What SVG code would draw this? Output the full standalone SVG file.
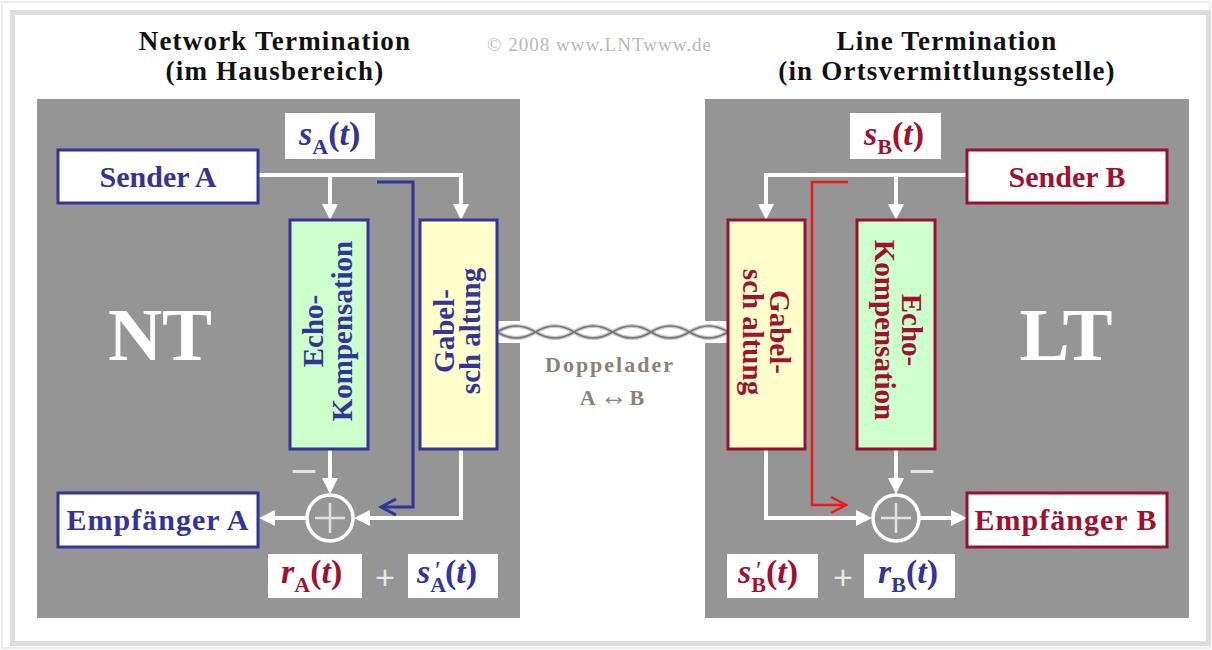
<svg xmlns="http://www.w3.org/2000/svg" width="1212" height="650" viewBox="0 0 1212 650">
  <style>
    text { font-family: "Liberation Serif", "Times New Roman", serif; }
    .title { font-size: 27px; font-weight: bold; fill: #111; text-anchor: middle; letter-spacing: 1.2px; }
    .copy { font-size: 19px; fill: #b8b8b8; letter-spacing: 1px; }
    .panel { fill: #959595; }
    .big { font-size: 75px; font-weight: bold; fill: #ffffff; text-anchor: middle; }
    .boxA { fill: #ffffff; stroke: #333399; stroke-width: 3; }
    .boxB { fill: #ffffff; stroke: #9b1030; stroke-width: 3; }
    .echoA { fill: #ccffcc; stroke: #333399; stroke-width: 3; }
    .gabelA { fill: #ffffcc; stroke: #333399; stroke-width: 3; }
    .echoB { fill: #ccffcc; stroke: #9b1030; stroke-width: 3; }
    .gabelB { fill: #ffffcc; stroke: #9b1030; stroke-width: 3; }
    .name { font-size: 30px; font-weight: bold; text-anchor: middle; }
    .vert { font-size: 29px; font-weight: bold; text-anchor: middle; }
    .blue { fill: #333399; }
    .red { fill: #a01030; }
    .tag { fill: #ffffff; }
    .sig { font-size: 34px; font-weight: bold; }
    .it { font-style: italic; }
    .sub { font-size: 22px; font-style: normal; }
    .pr { font-size: 26px; font-style: normal; font-weight: normal; }
    .wire { fill: none; stroke: #ffffff; stroke-width: 4; }
    .echoPathA { fill: none; stroke: #333399; stroke-width: 3; }
    .echoPathB { fill: none; stroke: #f01818; stroke-width: 2.5; }
    .sum { fill: none; stroke: #ffffff; stroke-width: 3.5; }
    .plus { fill: none; stroke: #e2e2e2; stroke-width: 2.5; }
    .minus { font-size: 44px; font-weight: bold; fill: #e4e4e4; text-anchor: middle; }
    .add { font-family: "Liberation Sans", Arial, sans-serif; font-size: 34px; fill: #e8e8e8; text-anchor: middle; }
    .pairLight { fill: none; stroke: #c8c8c8; stroke-width: 4; }
    .pairDark { fill: none; stroke: #747474; stroke-width: 1.6; }
    .dopp { font-size: 22px; font-weight: bold; fill: #8a8278; text-anchor: middle; letter-spacing: 2px; }
    .arrowGlyph { font-size: 28px; letter-spacing: 0; }
  </style>
  <defs>
    <marker id="arrW" viewBox="0 0 16 16" markerWidth="16" markerHeight="16" refX="10" refY="8" orient="auto" markerUnits="userSpaceOnUse">
      <path d="M0,0 L16,8 L0,16 Z" fill="#ffffff"/>
    </marker>
    <marker id="chevBlue" viewBox="0 0 20 20" markerWidth="20" markerHeight="20" refX="17" refY="10" orient="auto" markerUnits="userSpaceOnUse">
      <path d="M2,2 L17,10 L2,18" fill="none" stroke="#333399" stroke-width="3"/>
    </marker>
    <marker id="chevRed" viewBox="0 0 20 20" markerWidth="20" markerHeight="20" refX="17" refY="10" orient="auto" markerUnits="userSpaceOnUse">
      <path d="M2,2 L17,10 L2,18" fill="none" stroke="#f01818" stroke-width="2.5"/>
    </marker>
  </defs>

  <!-- page frame -->
  <rect x="0" y="0" width="1212" height="650" fill="#ffffff"/>
  <rect x="2" y="2" width="1208" height="646" fill="none" stroke="#e8e8e8" stroke-width="1.5"/>
  <rect x="12.5" y="12.5" width="1196" height="631" fill="#ffffff" stroke="#dddddd" stroke-width="5"/>

  <!-- headings -->
  <text class="title" x="275" y="50">Network Termination</text>
  <text class="title" x="275" y="80">(im Hausbereich)</text>
  <text class="title" x="947" y="50">Line Termination</text>
  <text class="title" x="947" y="80">(in Ortsvermittlungsstelle)</text>
  <text class="copy" x="487" y="51">© 2008 www.LNTwww.de</text>

  <!-- equipment panels -->
  <rect class="panel" x="37" y="99" width="483" height="519"/>
  <rect class="panel" x="705" y="99" width="484" height="519"/>
  <text class="big" x="160" y="360">NT</text>
  <text class="big" x="1066" y="360">LT</text>

  <!-- twisted pair between the hybrids -->
  <g id="line">
    <rect x="497" y="321" width="231" height="22" fill="#ffffff"/>
    <path class="pairLight" d="M497,332 q19,-12 38.5,0 t38.5,0 t38.5,0 t38.5,0 t38.5,0 t38.5,0"/>
    <path class="pairLight" d="M497,332 q19,12 38.5,0 t38.5,0 t38.5,0 t38.5,0 t38.5,0 t38.5,0"/>
    <path class="pairDark" d="M497,332 q19,-12 38.5,0 t38.5,0 t38.5,0 t38.5,0 t38.5,0 t38.5,0"/>
    <path class="pairDark" d="M497,332 q19,12 38.5,0 t38.5,0 t38.5,0 t38.5,0 t38.5,0 t38.5,0"/>
    <text class="dopp" x="610" y="372">Doppelader</text>
    <text class="dopp" x="613" y="405">A<tspan class="arrowGlyph" dx="2">↔</tspan><tspan dx="2">B</tspan></text>
  </g>

  <!-- connectors -->
  <g id="connectors">
    <path class="wire" d="M258,175 H461 V214" marker-end="url(#arrW)"/>
    <path class="wire" d="M330,175 V214" marker-end="url(#arrW)"/>
    <path class="wire" d="M330,449 V488" marker-end="url(#arrW)"/>
    <path class="wire" d="M461,449 V518 H360" marker-end="url(#arrW)"/>
    <path class="wire" d="M306,518 H265" marker-end="url(#arrW)"/>
    <path class="echoPathA" d="M377,182 H413 V507 H381" marker-end="url(#chevBlue)"/>

    <path class="wire" d="M967,175 H766 V214" marker-end="url(#arrW)"/>
    <path class="wire" d="M896,175 V214" marker-end="url(#arrW)"/>
    <path class="wire" d="M896,449 V488" marker-end="url(#arrW)"/>
    <path class="wire" d="M766,449 V518 H866" marker-end="url(#arrW)"/>
    <path class="wire" d="M920,518 H961" marker-end="url(#arrW)"/>
    <path class="echoPathB" d="M848,182 H812 V505 H846" marker-end="url(#chevRed)"/>
  </g>

  <!-- Network Termination side -->
  <g id="senderA">
    <rect class="boxA" x="58" y="150" width="200" height="53"/>
    <text class="name blue" x="158" y="187">Sender A</text>
  </g>
  <g id="empfaengerA">
    <rect class="boxA" x="58" y="493" width="200" height="54"/>
    <text class="name blue" x="158" y="530" letter-spacing="1">Empfänger A</text>
  </g>
  <g id="echoA">
    <rect class="echoA" x="290" y="220" width="78" height="229"/>
    <text class="vert blue" transform="translate(329,331) rotate(-90)"><tspan x="0" y="-6">Echo-</tspan><tspan x="0" y="23">Kompensation</tspan></text>
  </g>
  <g id="gabelA">
    <rect class="gabelA" x="420" y="220" width="77" height="229"/>
    <text class="vert blue" transform="translate(458,331) rotate(-90)"><tspan x="0" y="-4">Gabel-</tspan><tspan x="0" y="22">sch<tspan dx="7">altung</tspan></tspan></text>
  </g>
  <g id="sumA">
    <circle class="sum" cx="330" cy="518" r="23"/>
    <path class="plus" d="M315,518 H345 M330,503 V533"/>
    <text class="minus" x="304" y="482">–</text>
  </g>
  <g id="labelSA">
    <rect class="tag" x="285" y="113" width="90" height="46"/>
    <text class="sig blue" x="299" y="145"><tspan class="it">s</tspan><tspan class="sub" dy="9">A</tspan><tspan dy="-9">(</tspan><tspan class="it">t</tspan>)</text>
  </g>
  <g id="labelRA">
    <rect class="tag" x="268" y="554" width="94" height="44"/>
    <text class="sig red" x="281" y="583"><tspan class="it">r</tspan><tspan class="sub" dy="9">A</tspan><tspan dy="-9">(</tspan><tspan class="it">t</tspan>)</text>
  </g>
  <text class="add" x="385" y="589">+</text>
  <g id="labelSA2">
    <rect class="tag" x="408" y="554" width="90" height="44"/>
    <text class="sig blue" x="417" y="583"><tspan class="it">s</tspan><tspan class="sub" dy="9">A</tspan><tspan class="pr" x="435" dy="-13">′</tspan><tspan x="445" dy="4">(</tspan><tspan class="it">t</tspan>)</text>
  </g>

  <!-- Line Termination side -->
  <g id="senderB">
    <rect class="boxB" x="967" y="150" width="200" height="53"/>
    <text class="name red" x="1067" y="187">Sender B</text>
  </g>
  <g id="empfaengerB">
    <rect class="boxB" x="967" y="493" width="200" height="54"/>
    <text class="name red" x="1066" y="530" letter-spacing="1">Empfänger B</text>
  </g>
  <g id="gabelB">
    <rect class="gabelB" x="728" y="220" width="77" height="229"/>
    <text class="vert red" transform="translate(766,332) rotate(90)"><tspan x="0" y="-4">Gabel-</tspan><tspan x="0" y="23">sch<tspan dx="7">altung</tspan></tspan></text>
  </g>
  <g id="echoB">
    <rect class="echoB" x="857" y="220" width="78" height="229"/>
    <text class="vert red" transform="translate(896,330) rotate(90)"><tspan x="0" y="-6">Echo-</tspan><tspan x="0" y="21">Kompensation</tspan></text>
  </g>
  <g id="sumB">
    <circle class="sum" cx="896" cy="518" r="23"/>
    <path class="plus" d="M881,518 H911 M896,503 V533"/>
    <text class="minus" x="922" y="482">–</text>
  </g>
  <g id="labelSB">
    <rect class="tag" x="850" y="113" width="91" height="46"/>
    <text class="sig red" x="864" y="145"><tspan class="it">s</tspan><tspan class="sub" dy="9">B</tspan><tspan dy="-9">(</tspan><tspan class="it">t</tspan>)</text>
  </g>
  <g id="labelSB2">
    <rect class="tag" x="727" y="554" width="91" height="44"/>
    <text class="sig red" x="738" y="583"><tspan class="it">s</tspan><tspan class="sub" dy="9">B</tspan><tspan class="pr" x="756" dy="-13">′</tspan><tspan x="766" dy="4">(</tspan><tspan class="it">t</tspan>)</text>
  </g>
  <text class="add" x="843" y="589">+</text>
  <g id="labelRB">
    <rect class="tag" x="864" y="554" width="91" height="44"/>
    <text class="sig blue" x="878" y="583"><tspan class="it">r</tspan><tspan class="sub" dy="9">B</tspan><tspan dy="-9">(</tspan><tspan class="it">t</tspan>)</text>
  </g>
</svg>
